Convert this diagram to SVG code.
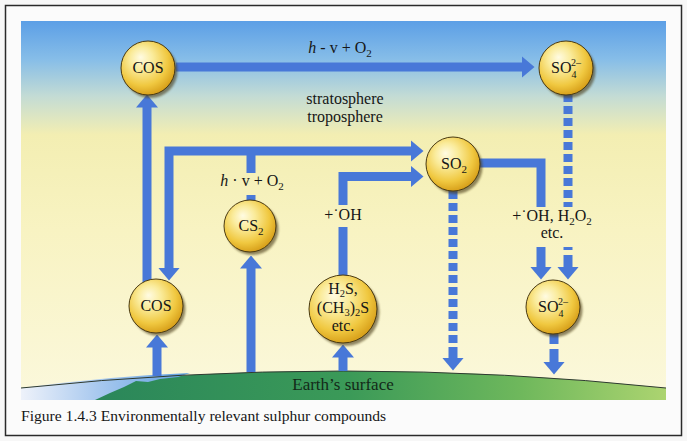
<svg xmlns="http://www.w3.org/2000/svg" width="687" height="441" viewBox="0 0 687 441" font-family="'Liberation Serif', 'DejaVu Serif', serif">
  <defs>
    <linearGradient id="sky" x1="0" y1="21" x2="0" y2="400" gradientUnits="userSpaceOnUse">
      <stop offset="0" stop-color="#5c9fe6"/>
      <stop offset="0.1" stop-color="#86bde8"/>
      <stop offset="0.2" stop-color="#c4dcd4"/>
      <stop offset="0.3" stop-color="#f3eeb2"/>
      <stop offset="0.55" stop-color="#f8f3c2"/>
      <stop offset="1" stop-color="#fbf8dc"/>
    </linearGradient>
    <linearGradient id="land" x1="90" y1="0" x2="666" y2="0" gradientUnits="userSpaceOnUse">
      <stop offset="0" stop-color="#2a865a"/>
      <stop offset="0.45" stop-color="#3b9a58"/>
      <stop offset="0.75" stop-color="#6fb85c"/>
      <stop offset="1" stop-color="#acd470"/>
    </linearGradient>
    <linearGradient id="water" x1="21" y1="0" x2="190" y2="0" gradientUnits="userSpaceOnUse">
      <stop offset="0" stop-color="#eef2fa"/>
      <stop offset="0.45" stop-color="#a9c9ef"/>
      <stop offset="1" stop-color="#5e9fe0"/>
    </linearGradient>
    <radialGradient id="ball" cx="0.42" cy="0.38" r="0.62" fx="0.36" fy="0.3">
      <stop offset="0" stop-color="#fffbe2"/>
      <stop offset="0.35" stop-color="#faeb9a"/>
      <stop offset="0.75" stop-color="#f0c840"/>
      <stop offset="1" stop-color="#d9a21c"/>
    </radialGradient>
    <filter id="soft" x="-20%" y="-20%" width="140%" height="140%">
      <feGaussianBlur stdDeviation="1.2"/>
    </filter>
    <marker id="ah" viewBox="0 0 13 22" refX="0.5" refY="11" markerWidth="13" markerHeight="22" markerUnits="userSpaceOnUse" orient="auto">
      <path d="M0,0 L13,11 L0,22 Z" fill="#4878d8"/>
    </marker>
    <style>
      .flow { stroke:#4878d8; stroke-width:9; fill:none; stroke-linejoin:miter; }
      .dash { stroke-dasharray:8 4; }
      .shadow { fill:#4a3a14; opacity:0.6; filter:url(#soft); }
      .ball { fill:url(#ball); stroke:#4a3a12; stroke-width:1; }
      .node { font-size:16px; text-anchor:middle; fill:#161616; }
      .lbl { font-size:16px; text-anchor:middle; fill:#161616; }
    </style>
  </defs>

  <!-- frame and background -->
  <rect x="0" y="0" width="687" height="441" fill="#f7f7f7"/>
  <rect x="5.5" y="5.5" width="676" height="430" fill="#fbfbfb" stroke="#2a2a2a" stroke-width="1.5"/>
  <rect x="21" y="21" width="645" height="379" fill="url(#sky)"/>

  <!-- earth -->
  <g id="earth">
    <path d="M21,388 Q343,354 666,388 L666,400 L21,400 Z" fill="url(#land)"/>
    <path d="M21,388 Q110,376 190,373 L178,377 L160,379 L148,382 L136,381 L124,387 L110,393 L95,400 L21,400 Z" fill="url(#water)"/>
    <path d="M21,388 Q343,354 666,388" fill="none" stroke="#2e3a30" stroke-width="1"/>
    <text x="343" y="390" font-size="17" text-anchor="middle" fill="#132a18">Earth’s surface</text>
  </g>

  <!-- connectors -->
  <g id="connectors">
    <path class="flow" d="M176,67 H522" marker-end="url(#ah)"/>
    <path class="flow" d="M147,282 V107" marker-end="url(#ah)"/>
    <path class="flow" d="M251,151 H411" marker-end="url(#ah)"/>
    <path class="flow" d="M251,151 H169 V268" marker-end="url(#ah)"/>
    <path class="flow" d="M251,173 V151"/>
    <path class="flow" d="M251,202 V195"/>
    <path class="flow" d="M343,278 V227"/>
    <path class="flow" d="M343,205 V176.5 H411" marker-end="url(#ah)"/>
    <path class="flow" d="M478,163 H541 V207"/>
    <path class="flow" d="M541,247 V267" marker-end="url(#ah)"/>
    <path class="flow dash" d="M568,94 V207"/>
    <path class="flow" d="M568,247 V250"/>
    <path class="flow" d="M568,255 V267" marker-end="url(#ah)"/>
    <path class="flow dash" d="M453,191 V352"/>
    <path class="flow" d="M453,352 V358" marker-end="url(#ah)"/>
    <path class="flow" d="M554,333 V344"/>
    <path class="flow" d="M554,349 V362" marker-end="url(#ah)"/>
    <path class="flow" d="M157,376 V347" marker-end="url(#ah)"/>
    <path class="flow" d="M251,372 V268" marker-end="url(#ah)"/>
    <path class="flow" d="M343,371 V357" marker-end="url(#ah)"/>
  </g>

  <!-- labels -->
  <g id="labels">
    <text class="lbl" x="340" y="53"><tspan font-style="italic">h</tspan> - v + O<tspan font-size="11" dy="4">2</tspan></text>
    <text class="lbl" x="345" y="104" font-size="17">stratosphere</text>
    <text class="lbl" x="345" y="122" font-size="17">troposphere</text>
    <text class="lbl" x="252" y="186"><tspan font-style="italic">h</tspan> · v + O<tspan font-size="11" dy="4">2</tspan></text>
    <text class="lbl" x="343" y="220">+˙OH</text>
    <text class="lbl" x="552" y="221">+˙OH, H<tspan font-size="11" dy="4">2</tspan><tspan dy="-4">O</tspan><tspan font-size="11" dy="4">2</tspan></text>
    <text class="lbl" x="552" y="238">etc.</text>
  </g>

  <!-- nodes -->
  <g id="cos_top">
    <circle class="shadow" cx="150.5" cy="71" r="27"/>
    <circle class="ball" cx="148" cy="68" r="27"/>
    <text class="node" x="148" y="73">COS</text>
  </g>
  <g id="so4_top">
    <circle class="shadow" cx="568.5" cy="71" r="27"/>
    <circle class="ball" cx="566" cy="68" r="27"/>
    <text font-size="16" x="551" y="73" fill="#161616">SO</text>
    <text font-size="10" x="571" y="66" fill="#161616">2–</text>
    <text font-size="10" x="571.5" y="78" fill="#161616">4</text>
  </g>
  <g id="so2">
    <circle class="shadow" cx="455.5" cy="167" r="27"/>
    <circle class="ball" cx="453" cy="164" r="27"/>
    <text font-size="16" x="441" y="169" fill="#161616">SO<tspan font-size="11" dy="4">2</tspan></text>
  </g>
  <g id="cs2">
    <circle class="shadow" cx="252.5" cy="229" r="26"/>
    <circle class="ball" cx="250" cy="226" r="26"/>
    <text font-size="16" x="238.5" y="231" fill="#161616">CS<tspan font-size="11" dy="4">2</tspan></text>
  </g>
  <g id="cos_bottom">
    <circle class="shadow" cx="158.5" cy="309" r="27"/>
    <circle class="ball" cx="156" cy="306" r="27"/>
    <text class="node" x="156" y="311">COS</text>
  </g>
  <g id="h2s">
    <circle class="shadow" cx="345.5" cy="312" r="34"/>
    <circle class="ball" cx="343" cy="309" r="34"/>
    <text class="node" x="343" y="294" font-size="15.5">H<tspan font-size="10.5" dy="3">2</tspan><tspan dy="-3">S,</tspan></text>
    <text class="node" x="343" y="312.5" font-size="15.5">(CH<tspan font-size="10.5" dy="3">3</tspan><tspan dy="-3">)</tspan><tspan font-size="10.5" dy="3">2</tspan><tspan dy="-3">S</tspan></text>
    <text class="node" x="343" y="331" font-size="15.5">etc.</text>
  </g>
  <g id="so4_bottom">
    <circle class="shadow" cx="555.5" cy="310" r="27"/>
    <circle class="ball" cx="553" cy="307" r="27"/>
    <text font-size="16" x="538" y="312" fill="#161616">SO</text>
    <text font-size="10" x="558" y="305" fill="#161616">2–</text>
    <text font-size="10" x="558.5" y="317" fill="#161616">4</text>
  </g>

  <text x="21" y="421" font-size="15.6" fill="#161616">Figure 1.4.3 Environmentally relevant sulphur compounds</text>
</svg>
